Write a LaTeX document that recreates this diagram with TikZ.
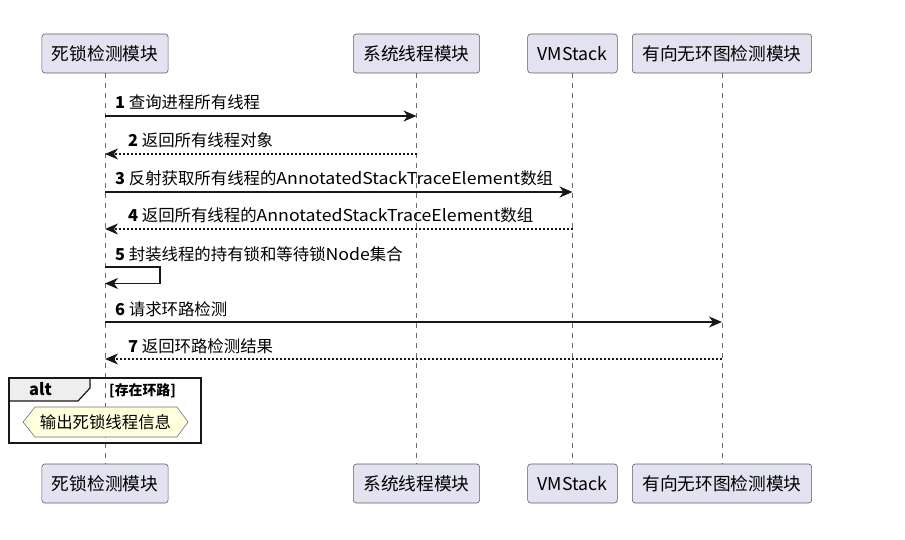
\documentclass[tikz,border=0pt]{standalone}
\usepackage{fontspec}
\setmainfont{Noto Sans CJK SC}
\usetikzlibrary{arrows.meta,positioning}
\definecolor{umlfill}{HTML}{E2E2F0}
\definecolor{umlline}{HTML}{181818}
\definecolor{notefill}{HTML}{FEFFDD}
\definecolor{tabfill}{HTML}{EEEEEE}
\newcommand{\wideLatin}[1]{{\addfontfeature{FakeStretch=1.08}#1}}

\begin{document}
\begin{tikzpicture}[x=1pt, y=-1pt,
  actor/.style={draw=umlline!70, fill=umlfill, rounded corners=3pt, line width=0.6pt,
    minimum height=39pt, inner xsep=10pt, font=\fontsize{17.7}{20}\selectfont},
  lifeline/.style={umlline!65, line width=0.7pt, dash pattern=on 5pt off 5pt},
  syncmsg/.style={umlline, line width=1.2pt, -{Stealth[length=13pt, width=11pt, inset=4pt]}},
  replymsg/.style={syncmsg, dash pattern=on 2pt off 2pt},
  msglabel/.style={anchor=base west, inner sep=0pt, font=\fontsize{16.4}{19}\selectfont}]
  \useasboundingbox (0,0) rectangle (905,540);

  % Participants, top and bottom
  \node[actor] (dlT) at (105,53.5) {死锁检测模块};
  \node[actor] (xtT) at (416.5,53.5) {系统线程模块};
  \node[actor] (vmT) at (572.5,53.5) {VMStack};
  \node[actor] (dgT) at (722,53.5) {有向无环图检测模块};

  \node[actor] (dlB) at (105,483.5) {死锁检测模块};
  \node[actor] (xtB) at (416.5,483.5) {系统线程模块};
  \node[actor] (vmB) at (572.5,483.5) {VMStack};
  \node[actor] (dgB) at (722,483.5) {有向无环图检测模块};

  % Lifelines
  \draw[lifeline] (dlT.south) -- (dlB.north);
  \draw[lifeline] (xtT.south) -- (xtB.north);
  \draw[lifeline] (vmT.south) -- (vmB.north);
  \draw[lifeline] (dgT.south) -- (dgB.north);

  % Messages
  \draw[syncmsg] (dlT.south |- 0,116) -- (xtT.south |- 0,116);
  \node[msglabel] (m1) at (115,109) {\textbf{1} 查询进程所有线程};

  \draw[replymsg] (xtT.south |- 0,154) -- (dlT.south |- 0,154);
  \node[msglabel] (m2) at (128,147) {\textbf{2} 返回所有线程对象};

  \draw[syncmsg] (dlT.south |- 0,192) -- (vmT.south |- 0,192);
  \node[msglabel] (m3) at (115,185) {\textbf{3} 反射获取所有线程的\wideLatin{AnnotatedStackTraceElement}数组};

  \draw[replymsg] (vmT.south |- 0,229) -- (dlT.south |- 0,229);
  \node[msglabel] (m4) at (128,222) {\textbf{4} 返回所有线程的\wideLatin{AnnotatedStackTraceElement}数组};

  \draw[syncmsg] (dlT.south |- 0,267) -| (160,283.5) -- (dlT.south |- 0,283.5);
  \node[msglabel] (m5) at (115,260.5) {\textbf{5} 封装线程的持有锁和等待锁\wideLatin{Node}集合};

  \draw[syncmsg] (dlT.south |- 0,322) -- (dgT.south |- 0,322);
  \node[msglabel] (m6) at (115,315) {\textbf{6} 请求环路检测};

  \draw[replymsg] (dgT.south |- 0,359) -- (dlT.south |- 0,359);
  \node[msglabel] (m7) at (128,352) {\textbf{7} 返回环路检测结果};

  % Alt fragment
  \filldraw[fill=tabfill, draw=umlline, line width=1.2pt]
    (9,378) -- (90,378) -- (90,388) -- (78,401) -- (9,401) -- cycle;
  \draw[umlline, line width=2pt] (9,378) rectangle (201,443);
  \node[font=\bfseries\fontsize{16.4}{19}\selectfont, inner sep=0pt] (alt) at (40.5,389.5) {alt};
  \node[font=\bfseries\fontsize{13.9}{16}\selectfont, anchor=west, inner sep=0pt] (guard) at (109,391) {[存在环路]};

  % Hexagon note
  \filldraw[fill=notefill, draw=umlline!60, line width=0.6pt]
    (23,422) -- (35,407) -- (177,407) -- (188,422) -- (177,437) -- (35,437) -- cycle;
  \node[font=\fontsize{16.4}{19}\selectfont, inner sep=0pt] (note) at (105.5,422) {输出死锁线程信息};
\end{tikzpicture}
\end{document}
